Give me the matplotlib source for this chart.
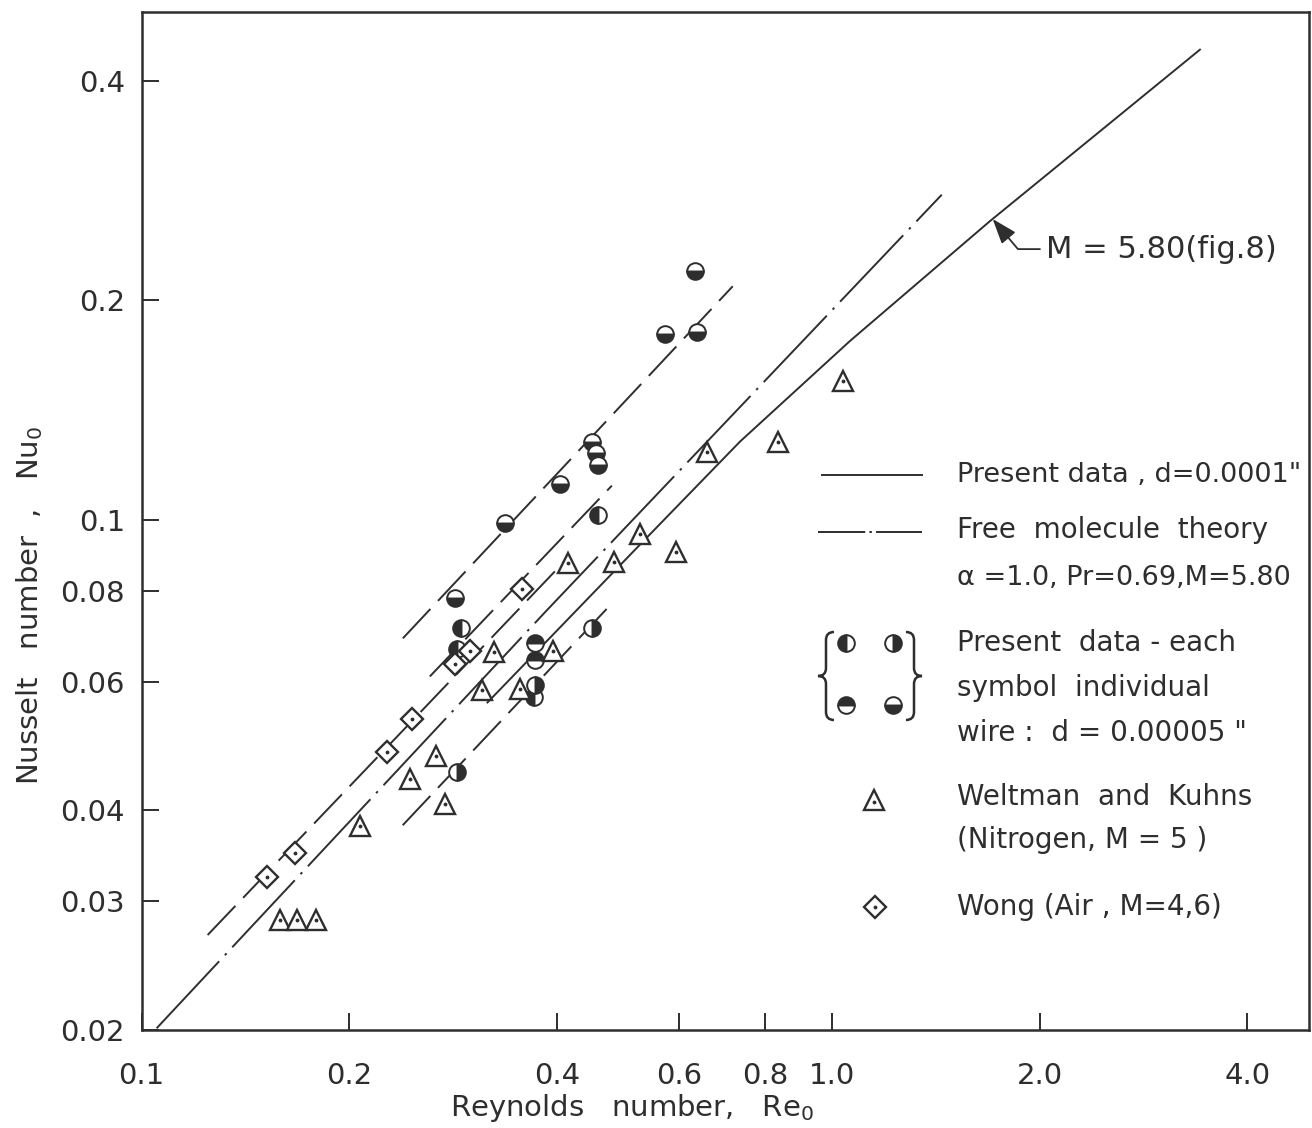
import numpy as np
import matplotlib.pyplot as plt
from matplotlib.lines import Line2D
from matplotlib.path import Path
from matplotlib.patches import PathPatch

plt.rcParams['font.family'] = ['DejaVu Sans']
plt.rcParams['lines.scale_dashes'] = False
plt.rcParams['mathtext.default'] = 'regular'

ink = '#2e2e2e'

# present data, d = 0.0001 in.  (curve "M = 5.80 (fig. 8)")
present_re = [0.317, 0.539, 0.736, 1.062, 1.694, 3.415]
present_nu = [0.0562, 0.0945, 0.128, 0.1758, 0.2566, 0.441]

# free molecule theory, alpha = 1.0, Pr = 0.69, M = 5.80
theory_re = [0.1051, 0.385, 1.443]
theory_nu = [0.0201, 0.0749, 0.279]

# individual wires, d = 0.00005 in.  (symbols and their dashed fits)
wire_bottom_re = [0.633, 0.573, 0.637, 0.450, 0.456, 0.458, 0.4035, 0.336, 0.284]
wire_bottom_nu = [0.219, 0.180, 0.181, 0.128, 0.1235, 0.119, 0.112, 0.0991, 0.0782]
fit_bottom_re = [0.239, 0.7185]
fit_bottom_nu = [0.0688, 0.209]

wire_left_re = [0.458, 0.290, 0.286, 0.370]
wire_left_nu = [0.1016, 0.0712, 0.0666, 0.0571]
fit_left_re = [0.2615, 0.480]
fit_left_nu = [0.0610, 0.1114]

wire_right_re = [0.371, 0.450, 0.286]
wire_right_nu = [0.0593, 0.0710, 0.0451]
fit_right_re = [0.2389, 0.4768]
fit_right_nu = [0.03815, 0.0763]

wire_top_re = [0.371, 0.371]
wire_top_nu = [0.0677, 0.0642]

# Wong (air, M = 4, 6)
wong_re = [0.1518, 0.1666, 0.2265, 0.2462, 0.284, 0.2988, 0.3554]
wong_nu = [0.0324, 0.0350, 0.0480, 0.0534, 0.0635, 0.0662, 0.0805]
fit_wong_re = [0.1246, 0.4172]
fit_wong_nu = [0.02698, 0.0893]

# Weltman and Kuhns (nitrogen, M = 5)
wk_re = [0.1585, 0.1677, 0.1787, 0.207, 0.2446, 0.2668, 0.275, 0.324, 0.311,
         0.353, 0.394, 0.414, 0.483, 0.527, 0.594, 0.659, 0.835, 1.037]
wk_nu = [0.0283, 0.0283, 0.0283, 0.0380, 0.0442, 0.0474, 0.0408, 0.0660, 0.0584,
         0.0587, 0.0662, 0.0873, 0.0876, 0.0957, 0.0904, 0.124, 0.128, 0.155]

xticks = [0.1, 0.2, 0.4, 0.6, 0.8, 1.0, 2.0, 4.0]
xticklabels = ['0.1', '0.2', '0.4', '0.6', '0.8', '1.0', '2.0', '4.0']
yticks = [0.02, 0.03, 0.04, 0.06, 0.08, 0.1, 0.2, 0.4]
yticklabels = ['0.02', '0.03', '0.04', '0.06', '0.08', '0.1', '0.2', '0.4']

arrow_re = 1.71

fig = plt.figure(figsize=(13.12, 11.28), dpi=100)
ax = fig.add_axes([0.108, 0.087, 0.890, 0.902])
ax.set_xscale('log')
ax.set_yscale('log')
ax.set_xlim(0.1, 4.92)
ax.set_ylim(0.02, 0.496)

dashdot = [66, 6, 1.8, 6]
longdash = [29, 8]

# lines
ax.plot(present_re, present_nu, color=ink, lw=1.4)
ax.plot(theory_re, theory_nu, color=ink, lw=1.4, dashes=dashdot)
for fx, fy in [(fit_bottom_re, fit_bottom_nu), (fit_left_re, fit_left_nu),
               (fit_right_re, fit_right_nu), (fit_wong_re, fit_wong_nu)]:
    ax.plot(fx, fy, color=ink, lw=1.4, dashes=longdash)

# symbols
def halfcircles(re, nu, fs, ms=12):
    ax.plot(re, nu, 'o', ls='none', ms=ms, fillstyle=fs, mfc=ink, mfcalt='white',
            mec=ink, mew=1.4, zorder=4)

halfcircles(wire_bottom_re, wire_bottom_nu, 'bottom')
halfcircles(wire_left_re, wire_left_nu, 'left')
halfcircles(wire_right_re, wire_right_nu, 'right')
halfcircles(wire_top_re, wire_top_nu, 'top')

ax.plot(wk_re, wk_nu, '^', ls='none', ms=14, mfc='white', mec=ink, mew=1.7, zorder=4)
ax.plot(wk_re, wk_nu, '.', ls='none', ms=3.5, color=ink, zorder=5)
ax.plot(wong_re, wong_nu, 'D', ls='none', ms=11, mfc='white', mec=ink, mew=1.7, zorder=4)
ax.plot(wong_re, wong_nu, '.', ls='none', ms=3.5, color=ink, zorder=5)

# annotation on present-data curve
arrow_nu = 10 ** np.interp(np.log10(arrow_re), np.log10(present_re), np.log10(present_nu))
ax.annotate('M = 5.80(fig.8)', xy=(arrow_re, arrow_nu), xytext=(2.04, 0.235),
            fontsize=22, color=ink, ha='left', va='center',
            arrowprops=dict(arrowstyle='-|>,head_length=0.7,head_width=0.25',
                            connectionstyle='angle,angleA=0,angleB=130,rad=0',
                            color=ink, lw=1.3, shrinkA=2, shrinkB=0))

# axes styling
ax.set_xticks(xticks)
ax.set_xticklabels(xticklabels)
ax.set_yticks(yticks)
ax.set_yticklabels(yticklabels)
ax.minorticks_off()
ax.tick_params(direction='in', length=12, width=1.4, color=ink, labelcolor=ink,
               labelsize=21)
ax.tick_params(axis='x', pad=23)
ax.tick_params(axis='y', pad=12)
for sp in ax.spines.values():
    sp.set_color(ink)
    sp.set_linewidth(1.8)

# legend and axis titles, placed in figure pixels
W, H = 1312.0, 1128.0
def P(px, py):
    return px / W, 1 - py / H

a, b = P(632, 1108)
fig.text(a, b, 'Reynolds   number,   Re$_0$', fontsize=21, color=ink, ha='center', va='center')
a, b = P(30, 605)
fig.text(a, b, 'Nusselt   number  ,   Nu$_0$', fontsize=21, color=ink, ha='center', va='center',
         rotation=90)

def sample_line(x0, x1, y, **kw):
    a, b = P(x0, y)
    c, _ = P(x1, y)
    fig.add_artist(Line2D([a, c], [b, b], transform=fig.transFigure, color=ink, lw=1.4, **kw))

def sample_mark(px, py, **kw):
    a, b = P(px, py)
    fig.add_artist(Line2D([a], [b], transform=fig.transFigure, ls='none', **kw))

def label(px, py, s, size=20):
    a, b = P(px, py)
    fig.text(a, b, s, fontsize=size, color=ink, ha='left', va='center')

def brace(x_end, y0, y1, w):
    # curly brace; w < 0 points left, w > 0 points right
    xs = x_end + w / 2
    xt = x_end + w
    ym = (y0 + y1) / 2
    r = abs(w) / 2
    pts = [(x_end, y0), (xs, y0), (xs, y0 + r), (xs, ym - r), (xs, ym), (xt, ym),
           (xs, ym), (xs, ym + r), (xs, y1 - r), (xs, y1), (x_end, y1)]
    codes = [Path.MOVETO, Path.CURVE3, Path.CURVE3, Path.LINETO, Path.CURVE3, Path.CURVE3,
             Path.CURVE3, Path.CURVE3, Path.LINETO, Path.CURVE3, Path.CURVE3]
    verts = [P(x, y) for x, y in pts]
    fig.add_artist(PathPatch(Path(verts, codes), fill=False, ec=ink, lw=1.8,
                             transform=fig.transFigure))

sample_line(822, 922, 475)
sample_line(818, 922, 532, dashes=[34, 3, 1.8, 3])
label(957, 475, 'Present data , d=0.0001"', size=19.5)
label(957, 530, 'Free  molecule  theory')
label(957, 578, 'α =1.0, Pr=0.69,M=5.80', size=19.5)

for px, py, fs in [(846, 643, 'left'), (893, 643, 'right'), (846, 705, 'top'), (893, 705, 'bottom')]:
    sample_mark(px, py, marker='o', ms=12, fillstyle=fs, mfc=ink, mfcalt='white', mec=ink, mew=1.4)
brace(834, 632, 720, -16)
brace(906, 632, 720, 16)
label(957, 643, 'Present  data - each')
label(957, 688, 'symbol  individual')
label(957, 733, 'wire :  d = 0.00005 "')

sample_mark(874, 800, marker='^', ms=14, mfc='white', mec=ink, mew=1.7)
sample_mark(874, 802, marker='.', ms=3.5, color=ink)
label(957, 797, 'Weltman  and  Kuhns')
label(957, 840, '(Nitrogen, M = 5 )')

sample_mark(875, 907, marker='D', ms=11, mfc='white', mec=ink, mew=1.7)
sample_mark(875, 907, marker='.', ms=3.5, color=ink)
label(957, 907, 'Wong (Air , M=4,6)')

fig.savefig('out.png', dpi=100, facecolor='white')
